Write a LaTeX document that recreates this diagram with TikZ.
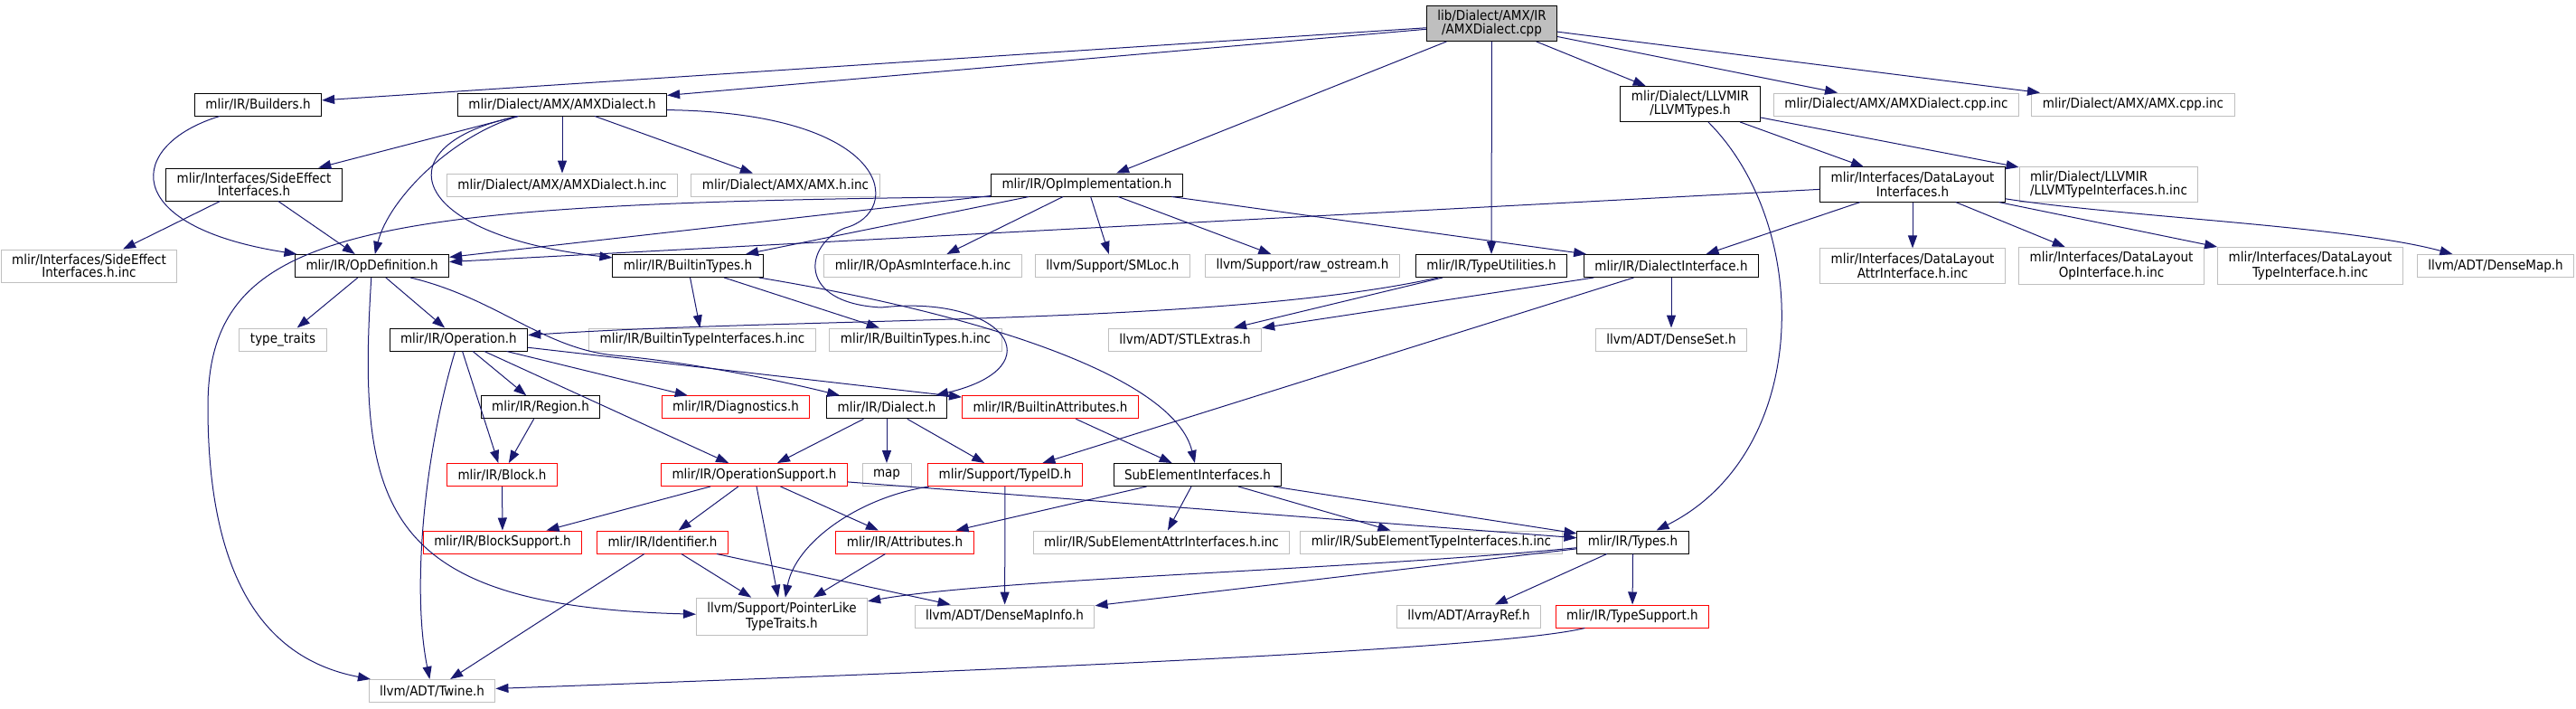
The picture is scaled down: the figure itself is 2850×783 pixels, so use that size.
\documentclass[tikz,border=0pt]{standalone}
\usepackage{fontspec}
\setmainfont{DejaVu Sans Condensed}
\usetikzlibrary{arrows.meta}

\definecolor{edgeblue}{HTML}{191970}
\definecolor{grey75}{HTML}{BFBFBF}
\definecolor{boxred}{HTML}{FF0000}

\begin{document}
\begin{tikzpicture}[x=0.5pt,y=-0.5pt]

\tikzset{
  file node/.style={
    draw=black, fill=white, line width=0.5pt,
    inner xsep=6pt, inner ysep=2.5pt,
    minimum height=12.5pt, align=center,
    font=\fontsize{7.5}{7.2}\selectfont,
  },
  red node/.style={file node, draw=boxred},
  gray node/.style={file node, draw=grey75},
  main node/.style={file node, fill=grey75},
  edge/.style={draw=edgeblue, line width=0.5pt, -{Triangle[length=7pt,width=5pt]}},
}

\useasboundingbox (0,0) rectangle (2850,783);

% Row 0: the source file
\node[main node] (cpp) at (1650.5,26) {lib/Dialect/AMX/IR\\/AMXDialect.cpp};

% Row 1
\node[file node] (builders)   at (285.5,115.5) {mlir/IR/Builders.h};
\node[file node] (amxdialect) at (622,115.5)   {mlir/Dialect/AMX/AMXDialect.h};
\node[file node] (llvmtypes)  at (1870,115)    {mlir/Dialect/LLVMIR\\/LLVMTypes.h};
\node[gray node] (cppinc)     at (2098,115.5)  {mlir/Dialect/AMX/AMXDialect.cpp.inc};
\node[gray node] (amxcppinc)  at (2360,115.5)  {mlir/Dialect/AMX/AMX.cpp.inc};

% Row 2
\node[file node] (sideeff)   at (281,204)    {mlir/Interfaces/SideEffect\\Interfaces.h};
\node[gray node] (amxdinc)   at (622,204.5)  {mlir/Dialect/AMX/AMXDialect.h.inc};
\node[gray node] (amxhinc)   at (869,204.5)  {mlir/Dialect/AMX/AMX.h.inc};
\node[file node] (opimpl)    at (1202.5,204.5) {mlir/IR/OpImplementation.h};
\node[file node] (dlif)      at (2116,204)   {mlir/Interfaces/DataLayout\\Interfaces.h};
\node[gray node, align=left] (llvmtyinc) at (2333,204) {mlir/Dialect/LLVMIR\\/LLVMTypeInterfaces.h.inc};

% Row 3
\node[gray node] (sideinc)  at (98.5,294)  {mlir/Interfaces/SideEffect\\Interfaces.h.inc};
\node[file node] (opdef)    at (411.6,294) {mlir/IR/OpDefinition.h};
\node[file node] (btypes)   at (761,294)   {mlir/IR/BuiltinTypes.h};
\node[gray node] (asminc)   at (1021,294)  {mlir/IR/OpAsmInterface.h.inc};
\node[gray node] (smloc)    at (1231,294)  {llvm/Support/SMLoc.h};
\node[gray node] (rawos)    at (1441,294)  {llvm/Support/raw\_ostream.h};
\node[file node] (tyutil)   at (1650,294)  {mlir/IR/TypeUtilities.h};
\node[file node] (dialif)   at (1849,294)  {mlir/IR/DialectInterface.h};
\node[gray node] (dlattr)   at (2116,294)  {mlir/Interfaces/DataLayout\\AttrInterface.h.inc};
\node[gray node] (dlop)     at (2336,294)  {mlir/Interfaces/DataLayout\\OpInterface.h.inc};
\node[gray node] (dltype)   at (2556,294)  {mlir/Interfaces/DataLayout\\TypeInterface.h.inc};
\node[gray node] (densemap) at (2761,294)  {llvm/ADT/DenseMap.h};

% Row 4
\node[gray node] (typetraits) at (313,375.5)   {type\_traits};
\node[file node] (operation)  at (507.4,375.5) {mlir/IR/Operation.h};
\node[gray node] (btyifinc)   at (777,375.5)   {mlir/IR/BuiltinTypeInterfaces.h.inc};
\node[gray node] (btyinc)     at (1013,375.5)  {mlir/IR/BuiltinTypes.h.inc};
\node[gray node] (stlext)     at (1311,375.5)  {llvm/ADT/STLExtras.h};
\node[gray node] (denseset)   at (1849,375.5)  {llvm/ADT/DenseSet.h};

% Row 5
\node[file node] (region)  at (598,450.3)  {mlir/IR/Region.h};
\node[red node]  (diag)    at (814,450.3)  {mlir/IR/Diagnostics.h};
\node[file node] (dialect) at (981,450.3)  {mlir/IR/Dialect.h};
\node[red node]  (battr)   at (1162,450.3) {mlir/IR/BuiltinAttributes.h};

% Row 6
\node[red node]  (block)   at (555.5,525) {mlir/IR/Block.h};
\node[red node]  (opsupp)  at (834.5,525) {mlir/IR/OperationSupport.h};
\node[gray node] (map)     at (981,525)   {map};
\node[red node]  (typeid)  at (1112,525)  {mlir/Support/TypeID.h};
\node[file node] (subelem) at (1325,525)  {SubElementInterfaces.h};

% Row 7
\node[red node]  (blocksupp)  at (556,599.5)    {mlir/IR/BlockSupport.h};
\node[red node]  (ident)      at (733,599.5)    {mlir/IR/Identifier.h};
\node[red node]  (attrs)      at (1001,599.5)   {mlir/IR/Attributes.h};
\node[gray node] (subattrinc) at (1285,599.5)   {mlir/IR/SubElementAttrInterfaces.h.inc};
\node[gray node] (subtyinc)   at (1583.5,599.5) {mlir/IR/SubElementTypeInterfaces.h.inc};
\node[file node] (types)      at (1806.6,599.5) {mlir/IR/Types.h};

% Row 8
\node[gray node] (ptrlike)  at (865,681.7)    {llvm/Support/PointerLike\\TypeTraits.h};
\node[gray node] (dmapinfo) at (1111.6,681.5) {llvm/ADT/DenseMapInfo.h};
\node[gray node] (arrayref) at (1625,681.5)   {llvm/ADT/ArrayRef.h};
\node[red node]  (tysupp)   at (1806,681.5)   {mlir/IR/TypeSupport.h};

% Row 9
\node[gray node] (twine) at (478,764) {llvm/ADT/Twine.h};

% Edges from the source file
\draw[edge] (cpp) -- (builders);
\draw[edge] (cpp) -- (amxdialect);
\draw[edge] (cpp) -- (opimpl);
\draw[edge] (cpp) -- (tyutil);
\draw[edge] (cpp) -- (llvmtypes);
\draw[edge] (cpp) -- (cppinc);
\draw[edge] (cpp) -- (amxcppinc);

% Builders.h
\draw[edge] (builders) .. controls (140,160) and (130,250) .. (opdef);

% AMXDialect.h
\draw[edge] (amxdialect) -- (sideeff);
\draw[edge] (amxdialect.195) .. controls (500,150) and (430,220) .. (opdef);
\draw[edge] (amxdialect.195) .. controls (420,160) and (450,260) .. (btypes);
\draw[edge] (amxdialect) -- (amxdinc);
\draw[edge] (amxdialect) -- (amxhinc);
\draw[edge] (amxdialect.-3) .. controls (990,125) and (1000,235) .. (935,252)
  .. controls (890,270) and (880,335) .. (975,340)
  .. controls (1110,325) and (1170,405) .. (dialect);

% SideEffectInterfaces.h
\draw[edge] (sideeff) -- (sideinc);
\draw[edge] (sideeff) -- (opdef);

% OpImplementation.h
\draw[edge] (opimpl) -- (opdef);
\draw[edge] (opimpl.south west) .. controls (400,225) and (230,250) .. (230,450)
  .. controls (230,650) and (300,730) .. (twine);
\draw[edge] (opimpl) -- (btypes);
\draw[edge] (opimpl) -- (asminc);
\draw[edge] (opimpl) -- (smloc);
\draw[edge] (opimpl) -- (rawos);
\draw[edge] (opimpl) -- (dialif);

% LLVMTypes.h
\draw[edge] (llvmtypes) -- (dlif);
\draw[edge] (llvmtypes) -- (llvmtyinc);
\draw[edge] (llvmtypes) .. controls (2005,250) and (2005,500) .. (types);

% DataLayoutInterfaces.h
\draw[edge] (dlif) -- (opdef);
\draw[edge] (dlif) -- (dialif);
\draw[edge] (dlif) -- (dlattr);
\draw[edge] (dlif) -- (dlop);
\draw[edge] (dlif) -- (dltype);
\draw[edge] (dlif) .. controls (2350,240) and (2600,250) .. (densemap);

% OpDefinition.h
\draw[edge] (opdef) -- (typetraits);
\draw[edge] (opdef) -- (operation);
\draw[edge] (opdef) .. controls (395,560) and (420,670) .. (ptrlike);
\draw[edge] (opdef.-17) .. controls (550,330) and (600,385) .. (680,393)
  .. controls (760,400) and (860,420) .. (dialect);

% TypeUtilities.h
\draw[edge] (tyutil) .. controls (1350,360) and (900,350) .. (operation);
\draw[edge] (tyutil) -- (stlext);

% DialectInterface.h
\draw[edge] (dialif) -- (stlext);
\draw[edge] (dialif) -- (denseset);
\draw[edge] (dialif) -- (typeid);

% BuiltinTypes.h
\draw[edge] (btypes) -- (btyifinc);
\draw[edge] (btypes) -- (btyinc);
\draw[edge] (btypes) .. controls (1100,350) and (1300,420) .. (subelem);

% Operation.h
\draw[edge] (operation) -- (region);
\draw[edge] (operation) -- (block);
\draw[edge] (operation) .. controls (470,500) and (455,650) .. (twine);
\draw[edge] (operation) -- (diag);
\draw[edge] (operation) -- (opsupp);
\draw[edge] (operation) -- (battr);

% Region.h and Block.h
\draw[edge] (region) -- (block);
\draw[edge] (block) -- (blocksupp);

% Dialect.h
\draw[edge] (dialect) -- (opsupp);
\draw[edge] (dialect) -- (map);
\draw[edge] (dialect) -- (typeid);

% BuiltinAttributes.h
\draw[edge] (battr) -- (subelem);

% OperationSupport.h
\draw[edge] (opsupp) -- (blocksupp);
\draw[edge] (opsupp) -- (ident);
\draw[edge] (opsupp) -- (ptrlike);
\draw[edge] (opsupp) -- (attrs);
\draw[edge] (opsupp) -- (types);

% TypeID.h
\draw[edge] (typeid) .. controls (950,550) and (880,600) .. (ptrlike);
\draw[edge] (typeid) -- (dmapinfo);

% SubElementInterfaces.h
\draw[edge] (subelem) -- (attrs);
\draw[edge] (subelem) -- (subattrinc);
\draw[edge] (subelem) -- (subtyinc);
\draw[edge] (subelem) -- (types);

% Identifier.h
\draw[edge] (ident) -- (twine);
\draw[edge] (ident) -- (ptrlike);
\draw[edge] (ident) -- (dmapinfo);

% Attributes.h
\draw[edge] (attrs) -- (ptrlike);

% Types.h
\draw[edge] (types) .. controls (1500,630) and (1100,640) .. (ptrlike);
\draw[edge] (types) -- (dmapinfo);
\draw[edge] (types) -- (arrayref);
\draw[edge] (types) -- (tysupp);

% TypeSupport.h
\draw[edge] (tysupp) .. controls (1650,720) and (1000,745) .. (twine);

\end{tikzpicture}
\end{document}
